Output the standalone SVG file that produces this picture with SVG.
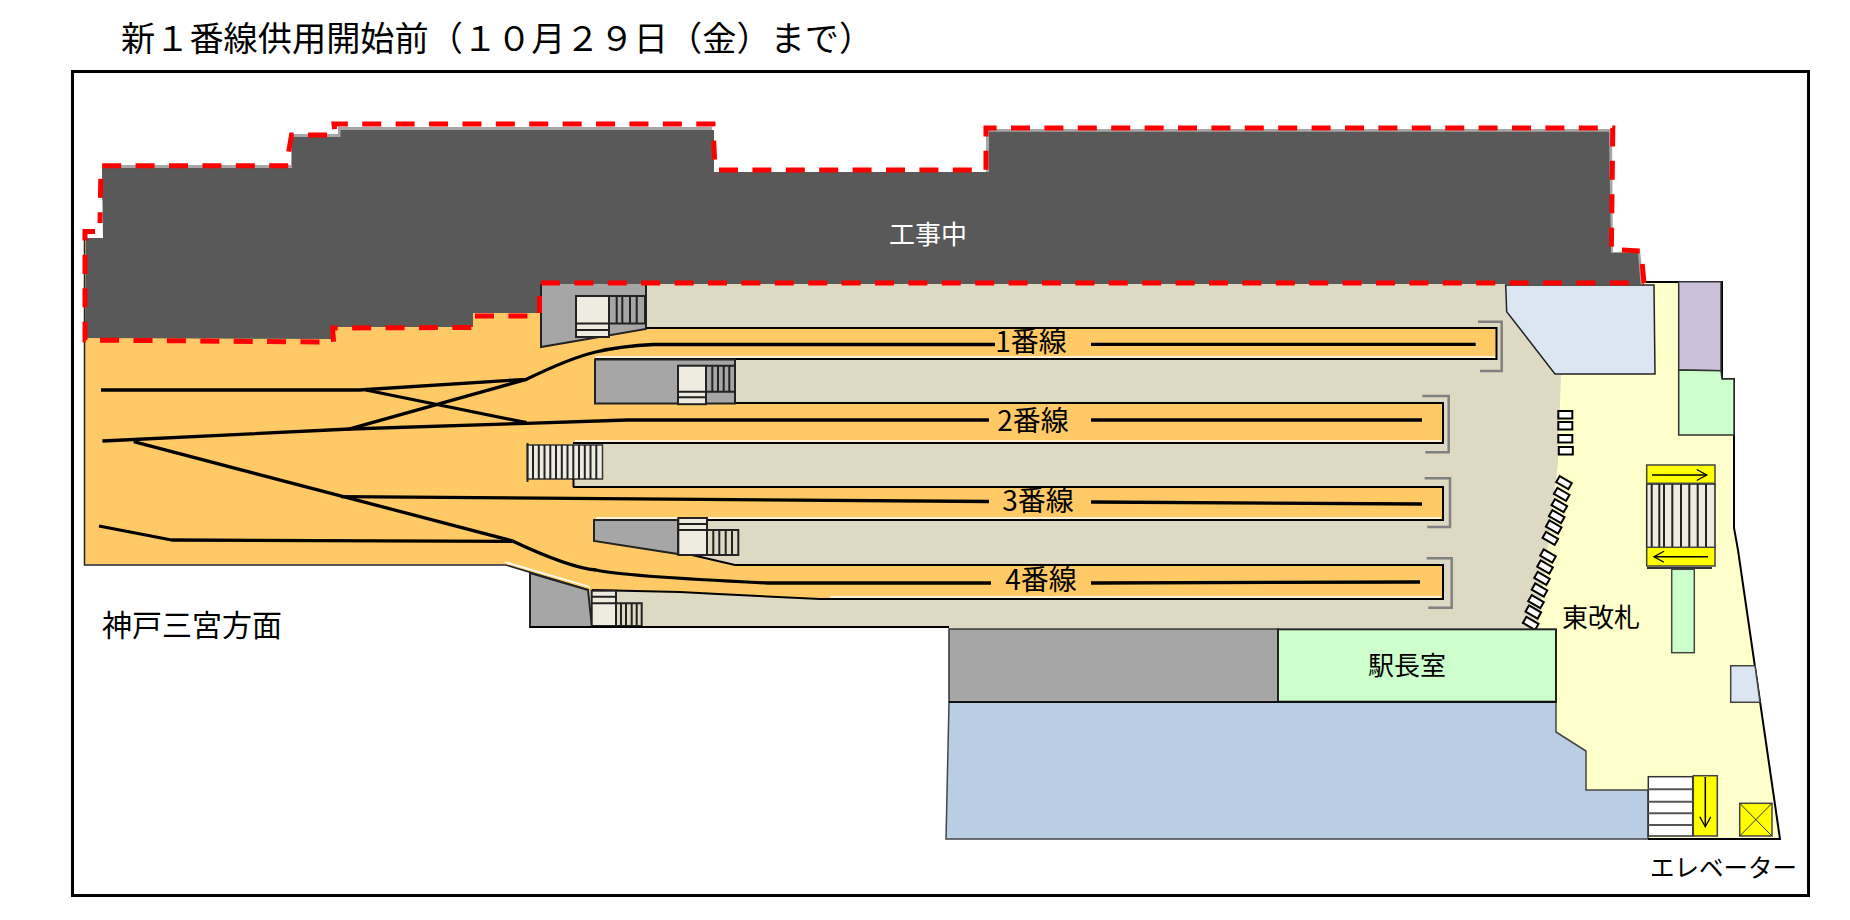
<svg xmlns="http://www.w3.org/2000/svg" width="1850" height="920" viewBox="0 0 1850 920">
<defs>
<marker id="ah" markerUnits="userSpaceOnUse" markerWidth="14" markerHeight="14" refX="11" refY="6" orient="auto"><path d="M1 0.5L11 6L1 11.500" fill="none" stroke="#000" stroke-width="1.300"/></marker>
</defs>
<style>
text{font-family:"Noto Sans CJK JP","Noto Sans CJK SC",sans-serif;fill:#000}
.k{fill:none;stroke:#000;stroke-width:2}
.t{fill:none;stroke:#000;stroke-width:3.300;stroke-linejoin:round}
.b{fill:none;stroke:#808080;stroke-width:2.500}
.s{fill:#eeece1;stroke:#222;stroke-width:2}
.v{fill:none;stroke:#222;stroke-width:2}
.g{fill:#a6a6a6;stroke:#222;stroke-width:2}
.y{fill:#ffff00;stroke:#444;stroke-width:1.500}
.a{stroke:#000;stroke-width:1.500;fill:none;marker-end:url(#ah)}
.r{fill:#fff;stroke:#000;stroke-width:2}
.w{fill:none;stroke:#fff;stroke-width:1.500}
</style>
<text x="121" y="51" font-size="34.200">新１番線供用開始前（１０月２９日（金）まで）</text>
<rect x="72.500" y="71.500" width="1736" height="824" fill="none" stroke="#000" stroke-width="3"/>

<g id="east-concourse">
<polygon points="1640,282 1722,282 1722,379 1734,379 1734,528 1738,550 1780,839 1648,839 1648,790 1586,790 1586,751 1556,732 1556,629 1538,628 1558,463 1561,375 1555,374 1600,284" fill="#ffffcc"/>
<path class="k" d="M1640 282H1722V379H1734V528L1738 550L1780 839H1648"/>
</g>
<g id="platform-base">
<polygon points="640,284 1505,284 1506,312 1555,374 1561,375 1558,463 1538,628 949,628 949,627 530,627 530,500 560,284" fill="#ddd9c3"/>
</g>
<g id="trackbed">
<polygon points="85,238 646,238 646,328 1496.500,328 1496.500,359 595,359 595,403 1443,403 1443,443 573,443 573,487 1443,487 1443,520 594,520 594,541 692,555 735,565 1443,565 1443,599 820,598 718,594 589,590 506,564 85,564" fill="#ffc966"/>
<path class="w" d="M595 357H1495M575 441H1441M596 518H1441M830 597H1441M505 562L590 587"/>
<path class="k" d="M646 328H1496.500V359H595M595 403H1443V443H573M573 487H1443V520H594M735 565H1443V599H820L718 594L680 592L592 590M692 555L735 565" />
<path d="M84.500 238V565H506L589 590" fill="none" stroke="#222" stroke-width="1.500"/>
</g>

<g id="platform-1-head">
<polygon class="g" points="541,283 646,283 646,329 541,347"/>
<rect class="s" x="576" y="296" width="33" height="41"/>
<path class="v" d="M576 323.500H609M576 330H609M609 296H645V323.500H609M616.700 296V323.500M622.300 296V323.500M630 296V323.500M636.700 296V323.500"/>
</g>
<g id="platform-2-head">
<rect class="g" x="595" y="359.500" width="140" height="44"/>
<rect class="s" x="678" y="365.700" width="28" height="38.500"/>
<path class="v" d="M678 391.700H706M678 397.300H706M706 365.700H735V391.700H706M712.300 365.700V391.700M718 365.700V391.700M723.700 365.700V391.700M729.300 365.700V391.700"/>
</g>
<g id="platform-3-head">
<rect x="527.500" y="445" width="75" height="34" fill="#eeece1" stroke="#333" stroke-width="1.500"/>
<path d="M527.500 443V482" stroke="#222" stroke-width="2"/>
<path class="v" d="M533 445V479M538.800 445V479M544.500 445V479M550.300 445V479M556 445V479M561.800 445V479M567.500 445V479M573.300 445V479M579 445V479M584.800 445V479M590.500 445V479M596.300 445V479"/>
<path class="k" d="M573.500 479V487"/>
</g>
<g id="platform-4-head">
<polygon class="g" points="594,520 678,520 678,554 594,541"/>
<rect class="s" x="678.300" y="518" width="28.700" height="37"/>
<path class="v" d="M678 524H707M678 530H707M707 530H738.300V555H707M713.300 530V555M719.300 530V555M725.700 530V555M732 530V555"/>
</g>
<g id="platform-5-head">
<polygon class="g" points="530,573 588,590 592,627 530,627"/>
<rect class="s" x="591.700" y="590.700" width="24.300" height="35.300"/>
<path class="v" d="M592 596.700H616M592 603.300H616M616 603.300H641.700V626H616M621 603.300V626M626 603.300V626M631.700 603.300V626M636.700 603.300V626"/>
<path class="k" d="M530 627H949"/>
</g>

<g id="brackets">
<path class="b" d="M1478 321.700H1501.700V371H1480"/>
<path class="b" d="M1422.300 396H1448.700V452.300H1425.300"/>
<path class="b" d="M1424.700 478.300H1450V527H1427.300"/>
<path class="b" d="M1426.700 558.300H1451.700V607.700H1428.300"/>
</g>

<g id="tracks">
<path class="t" d="M101 390H359L526.500 379.300Q570 358 595.700 352T653.500 344.500H995"/>
<path class="t" d="M1091 344.300H1475.700"/>
<path class="t" d="M365.800 390L526.500 422.700"/>
<path class="t" d="M348 429.300L526.500 379.300"/>
<path class="t" d="M102.400 441L350 429L526.500 423.300L627 420H989"/>
<path class="t" d="M1091 420H1422"/>
<path class="t" d="M133.700 441.700L513 541"/>
<path class="t" d="M341 496.700L989 501.500"/>
<path class="t" d="M1091 502L1422 504"/>
<path class="t" d="M99 526L171.600 540L513 541.300Q570 568 596 570Q620 576 768 583H991"/>
<path class="t" d="M1091 583L1420 582"/>
</g>

<g id="gates">
<rect class="r" x="1558.300" y="411" width="14" height="7.500"/>
<rect class="r" x="1558.300" y="422" width="14" height="7.500"/>
<rect class="r" x="1558.300" y="435" width="14" height="7.500"/>
<rect class="r" x="1558.800" y="447" width="14" height="7.500"/>
<g fill="#fff" stroke="#000" stroke-width="2">
<rect x="-7" y="-3.500" width="14" height="7" transform="translate(1564,482.700) rotate(30)"/>
<rect x="-7" y="-3.500" width="14" height="7" transform="translate(1561.700,494.300) rotate(30)"/>
<rect x="-7" y="-3.500" width="14" height="7" transform="translate(1559.300,505.700) rotate(30)"/>
<rect x="-7" y="-3.500" width="14" height="7" transform="translate(1556.700,516.700) rotate(30)"/>
<rect x="-7" y="-3.500" width="14" height="7" transform="translate(1553.700,527) rotate(30)"/>
<rect x="-7" y="-3.500" width="14" height="7" transform="translate(1550.300,538.300) rotate(30)"/>
<rect x="-7" y="-3.500" width="14" height="7" transform="translate(1548,556) rotate(30)"/>
<rect x="-7" y="-3.500" width="14" height="7" transform="translate(1545,567) rotate(30)"/>
<rect x="-7" y="-3.500" width="14" height="7" transform="translate(1542,578.300) rotate(30)"/>
<rect x="-7" y="-3.500" width="14" height="7" transform="translate(1539.500,590) rotate(30)"/>
<rect x="-7" y="-3.500" width="14" height="7" transform="translate(1536,601.700) rotate(30)"/>
<rect x="-7" y="-3.500" width="14" height="7" transform="translate(1533.300,612) rotate(30)"/>
<rect x="-7" y="-3.500" width="14" height="7" transform="translate(1530.700,623.300) rotate(30)"/>
</g>
</g>

<g id="pale-room"><polygon points="1505.700,285 1654,285 1655,374 1555,374 1506.700,311.700" fill="#dce6f2" stroke="#222" stroke-width="1.500"/></g>
<g id="purple-room"><polygon points="1678.700,281.700 1721,281.700 1721,370.700 1678.700,370" fill="#ccc1da" stroke="#333" stroke-width="1.500"/></g>
<g id="green-room"><polygon points="1678.700,370 1721,370.700 1722,379 1734,379 1734,435 1678.700,435" fill="#ccffcc" stroke="#333" stroke-width="1.500"/></g>

<g id="stairs-east">
<rect x="1646.700" y="484" width="68.300" height="64" fill="#eeece1" stroke="#222" stroke-width="1.500"/>
<path class="v" d="M1651.700 484V548M1659.300 484V548M1664 484V548M1672.300 484V548M1681 484V548M1689.300 484V548M1697.700 484V548M1706 484V548"/>
<rect class="y" x="1646.700" y="465" width="68.300" height="18.300"/>
<path class="a" d="M1652 475H1706.700"/>
<rect class="y" x="1646.700" y="547.300" width="68.300" height="18.700"/>
<path class="a" d="M1708 556.700H1654"/>
<path d="M1647 568H1712" stroke="#333" stroke-width="2"/>
<rect x="1671.700" y="569.300" width="22.600" height="83.400" fill="#ccffcc" stroke="#444" stroke-width="1.500"/>
<polygon points="1730.700,665.700 1755,665.700 1760,702.300 1730.700,702.300" fill="#dce6f2" stroke="#444" stroke-width="1.500"/>
</g>

<g id="station-rooms">
<rect x="949" y="629" width="329" height="73" fill="#a6a6a6" stroke="#333" stroke-width="1.500"/>
<polygon points="949,702 1556,702 1556,732 1586,751 1586,790 1648,790 1648,839 946,839" fill="#b9cde5"/>
<path d="M949 702L946 839H1648V790H1586V751L1556 732V702" fill="none" stroke="#444" stroke-width="1.500"/>
<rect x="1278" y="629.300" width="278" height="72.400" fill="#ccffcc" stroke="#222" stroke-width="2"/>
<path d="M949 702H1556" stroke="#111" stroke-width="2"/>
</g>

<g id="stairs-south">
<rect x="1648.300" y="776.700" width="44.400" height="59.300" fill="#fff" stroke="#333" stroke-width="1.500"/>
<path class="v" d="M1648 789.300H1692.700M1648 801.700H1692.700M1648 813.300H1692.700M1648 825H1692.700" style="stroke:#555"/>
<rect class="y" x="1693.300" y="775.700" width="24" height="60.300"/>
<path class="a" d="M1705.300 777V826.700"/>
</g>
<g id="elevator">
<rect class="y" x="1739.700" y="803.300" width="32.300" height="32.700"/>
<path d="M1739.700 803.300L1772 836M1772 803.300L1739.700 836" stroke="#333" stroke-width="1"/>
</g>
<path class="k" d="M1648 839H1780"/>

<g id="work-area">
<polygon points="102,165 291,165 291,134 338,134 338,127 712,127 712,172 986,172 986,129 1612,129 1613,252 1640,251 1644,284 1600,284 1600,200 102,200" fill="#a6a6a6"/>
<polygon points="85,338 86,238 103,238 102,168 292,168 292,137 340.500,137 340.500,130 714,130 714,172 989,172 989,131.700 1609,131.700 1611,253 1638,253 1640.500,284 540,284 540,313 473,313 473,327 331,327 331,339" fill="#595959"/>
<path d="M95 231.500H85V340L320 342H333.600L332.500 328L473 327.500M475 316H529M539.500 313V296M541 283H1644M1644 283L1641 251L1622 250M1611.400 246.600L1612.800 128H986V170H715L713 124H334L335.500 135H291.500L288.500 153V165.700H101L100 223" fill="none" stroke="#ff0000" stroke-width="5" stroke-dasharray="19 14.400"/>
<text x="928" y="244" font-size="26" text-anchor="middle" style="fill:#fff">工事中</text>
</g>

<g id="labels">
<text x="1031" y="352" font-size="28" text-anchor="middle">1番線</text>
<text x="1033" y="431" font-size="28" text-anchor="middle">2番線</text>
<text x="1038" y="511" font-size="28" text-anchor="middle">3番線</text>
<text x="1041" y="590" font-size="28" text-anchor="middle">4番線</text>
<text x="102" y="636" font-size="30">神戸三宮方面</text>
<text x="1562" y="627" font-size="26">東改札</text>
<text x="1368" y="675" font-size="26">駅長室</text>
<text x="1650" y="877" font-size="24.500">エレベーター</text>
</g>
</svg>
